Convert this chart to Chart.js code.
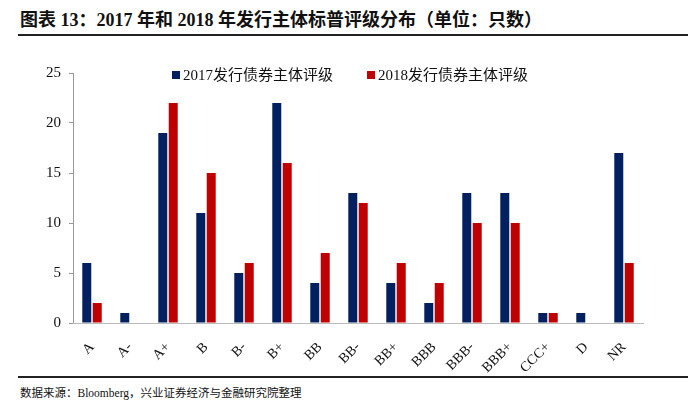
<!DOCTYPE html>
<html>
<head>
<meta charset="utf-8">
<script src="https://cdn.jsdelivr.net/npm/chart.js@4"></script>
<style>
  body { margin: 0; width: 700px; height: 419px; background: #fff; position: relative; overflow: hidden;
         font-family: "Liberation Serif", "Noto Sans CJK SC", serif; }
  #title { position: absolute; left: 20px; top: 5px; font-size: 18px; font-weight: bold; color: #111; white-space: nowrap; }
  #topLine { position: absolute; left: 18px; top: 34px; width: 670px; height: 2px; background: #222; }
  #bottomLine { position: absolute; left: 18px; top: 376px; width: 670px; height: 2px; background: #222; }
  #source { position: absolute; left: 20px; top: 384px; font-size: 11.5px; color: #111; white-space: nowrap; }
  #wrap { position: absolute; left: 0; top: 40px; width: 700px; height: 335px; }
  .legend { position: absolute; top: 63px; font-size: 15px; color: #111; white-space: nowrap; }
  .legend span { display: inline-block; width: 8px; height: 8px; margin-right: 3px; vertical-align: 1px; }
</style>
</head>
<body>
<div id="title">图表 13：2017 年和 2018 年发行主体标普评级分布（单位：只数）</div>
<div id="topLine"></div>
<div id="wrap"><canvas id="myChart"></canvas></div>
<div class="legend" id="leg0" style="left:172px"></div>
<div class="legend" id="leg1" style="left:367px"></div>
<div id="bottomLine"></div>
<div id="source">数据来源：Bloomberg，兴业证券经济与金融研究院整理</div>
<script>
const ratings = ['A', 'A-', 'A+', 'B', 'B-', 'B+', 'BB', 'BB-', 'BB+', 'BBB', 'BBB-', 'BBB+', 'CCC+', 'D', 'NR'];
const issuers2017 = [6, 1, 19, 11, 5, 22, 4, 13, 4, 2, 13, 13, 1, 1, 17];
const issuers2018 = [2, 0, 22, 15, 6, 16, 7, 12, 6, 4, 10, 10, 1, 0, 6];
const yTicks = [0, 5, 10, 15, 20, 25];

const serif = '"Liberation Serif", "Noto Sans CJK SC", serif';

const ctx = document.getElementById('myChart').getContext('2d');
const chart = new Chart(ctx, {
    type: 'bar',
    data: {
        labels: ratings,
        datasets: [
            {
                label: '2017发行债券主体评级',
                data: issuers2017,
                backgroundColor: '#002060',
                categoryPercentage: 0.55,
                barPercentage: 0.86
            },
            {
                label: '2018发行债券主体评级',
                data: issuers2018,
                backgroundColor: '#C00000',
                categoryPercentage: 0.55,
                barPercentage: 0.86
            }
        ]
    },
    options: {
        responsive: true,
        maintainAspectRatio: false,
        animation: false,
        layout: { padding: { top: 33, right: 57, left: 0, bottom: 0 } },
        plugins: {
            legend: { display: false },
            tooltip: { enabled: false }
        },
        scales: {
            y: {
                min: 0,
                max: 25,
                afterBuildTicks: (scale) => { scale.ticks = yTicks.map(v => ({ value: v })); },
                afterFit: (scale) => { scale.width = 73; },
                ticks: { color: '#111', padding: 8, font: { family: serif, size: 15 } },
                grid: { drawOnChartArea: false, drawTicks: true, tickLength: 4, color: '#999' },
                border: { color: '#999' }
            },
            x: {
                afterFit: (scale) => { scale.height = 52; },
                ticks: {
                    color: '#111',
                    minRotation: 45,
                    maxRotation: 45,
                    padding: 8,
                    font: { family: serif, size: 14 }
                },
                grid: { display: false },
                border: { color: '#bbb' }
            }
        }
    }
});

// legend in the plot, built from the datasets
chart.data.datasets.forEach((ds, i) => {
    const el = document.getElementById('leg' + i);
    el.innerHTML = '<span style="background:' + ds.backgroundColor + '"></span>' + ds.label;
});
</script>
</body>
</html>
